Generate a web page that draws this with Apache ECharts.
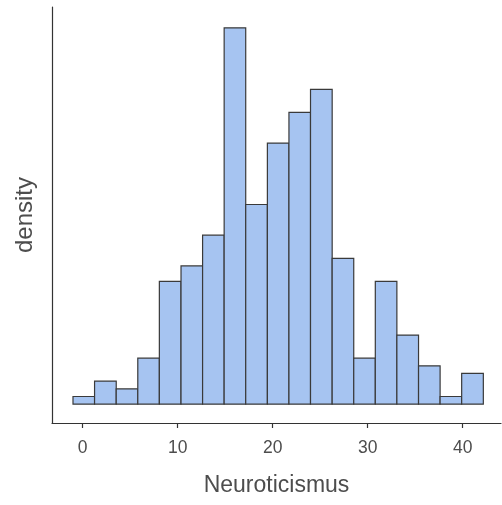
<!DOCTYPE html>
<html>
<head>
<meta charset="utf-8">
<style>
  html, body { margin: 0; padding: 0; background: #fff; }
  #chart { width: 502px; height: 505px; }
</style>
<script src="https://cdn.jsdelivr.net/npm/echarts@6/dist/echarts.min.js"></script>
</head>
<body>
<div id="chart"></div>
<script>
  // bin edges (width ~2.27)
  var binEdges = [-1.02, 1.25, 3.53, 5.80, 8.07, 10.35, 12.62, 14.89, 17.16, 19.44,
                  21.71, 23.98, 26.26, 28.53, 30.80, 33.07, 35.35, 37.62, 39.89, 42.17];
  // density per bin
  var densities = [0.00139, 0.00418, 0.00278, 0.00835, 0.02227, 0.02506, 0.03063, 0.06822, 0.03620, 0.04733,
                   0.05290, 0.05708, 0.02645, 0.00835, 0.02227, 0.01253, 0.00696, 0.00139, 0.00557];
  var xTicks = [0, 10, 20, 30, 40];

  var bins = [];
  for (var i = 0; i < densities.length; i++) {
    bins.push([binEdges[i], binEdges[i + 1], densities[i]]);
  }

  var chart = echarts.init(document.getElementById('chart'));
  var option = {
    animation: false,
    textStyle: { fontFamily: 'Liberation Sans, Arial, sans-serif' },
    grid: { left: 52, right: 1, top: 7, bottom: 82, containLabel: false, outerBoundsMode: 'none' },
    xAxis: {
      type: 'value',
      min: -3.23,
      max: 44.03,
      name: 'Neuroticismus',
      nameLocation: 'middle',
      nameGap: 51,
      nameTextStyle: { fontSize: 23, color: '#4d4d4d' },
      splitLine: { show: false },
      axisLine: { onZero: false, lineStyle: { color: '#333', width: 1.2 } },
      axisTick: { show: true, length: 5, customValues: xTicks, lineStyle: { color: '#333', width: 1.2 } },
      axisLabel: { customValues: xTicks, fontSize: 17.5, color: '#4d4d4d', margin: 16 }
    },
    yAxis: {
      type: 'value',
      min: -0.00341,
      max: 0.0720,
      name: 'density',
      nameLocation: 'middle',
      nameGap: 15,
      nameRotate: 90,
      nameTextStyle: { fontSize: 24, color: '#4d4d4d' },
      splitLine: { show: false },
      axisLine: { show: true, onZero: false, lineStyle: { color: '#333', width: 1.2 } },
      axisTick: { show: false },
      axisLabel: { show: false }
    },
    series: [{
      type: 'custom',
      data: bins,
      renderItem: function (params, api) {
        var p0 = api.coord([api.value(0), api.value(2)]);
        var p1 = api.coord([api.value(1), 0]);
        return {
          type: 'rect',
          shape: { x: p0[0], y: p0[1], width: p1[0] - p0[0], height: p1[1] - p0[1] },
          style: { fill: '#a6c4f1', stroke: '#3a3a3a', lineWidth: 1.2 }
        };
      }
    }]
  };
  chart.setOption(option);
</script>
</body>
</html>
